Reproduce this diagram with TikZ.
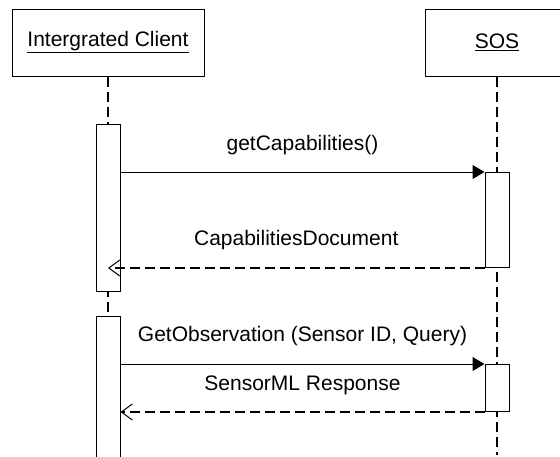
\documentclass[tikz,border=0pt]{standalone}
\usepackage{fontspec}
\setmainfont{Liberation Sans}
\usetikzlibrary{arrows.meta, backgrounds}

\tikzset{
  objbox/.style={draw, line width=1pt, minimum width=192pt, minimum height=67pt,
    inner sep=0pt, font=\fontsize{21}{25}\selectfont},
  actbox/.style={draw, fill=white, line width=1pt, minimum width=24pt, inner sep=0pt, anchor=north},
  lifeline/.style={line width=2pt, dash pattern=on 10pt off 5pt},
  call/.style={line width=1pt, -{Triangle[length=12pt, width=14pt]}},
  reply/.style={line width=1.6pt, dash pattern=on 10pt off 5pt,
    -{Straight Barb[length=11pt, width=16pt, line width=1pt]}},
  msg/.style={font=\fontsize{21}{25}\selectfont, inner sep=0pt, text height=15pt, text depth=4pt}
}

\begin{document}
\begin{tikzpicture}[x=1pt, y=-1pt]
  \useasboundingbox (0,0) rectangle (560,456);
  \clip (0,0) rectangle (560,456);

  % objects
  \node[objbox] (client) at (108,42.5) {\underline{Intergrated Client}};
  \node[objbox, minimum width=144pt] (sos) at (497,42.5) {\underline{SOS}};

  % activations
  \node[actbox, minimum height=167pt] (ca1) at (108,124) {};
  \node[actbox, minimum height=160pt] (ca2) at (108,316) {};
  \node[actbox, minimum height=95pt] (sa1) at (497,172) {};
  \node[actbox, minimum height=47pt] (sa2) at (497,364) {};

  % lifeline end
  \coordinate (sosend) at (497,455);

  % lifelines
  \begin{scope}[on background layer]
    \draw[lifeline] (client.south) -- (ca2.north);
    \draw[lifeline] (sos.south) -- (sosend);
  \end{scope}

  % messages
  \draw[call] (ca1.east |- sa1.north west) -- (sa1.north west)
    node[msg, midway, yshift=27pt] (m1) {getCapabilities()};
  \draw[reply] (sa1.south west) -- (ca1.center |- sa1.south west)
    node[msg, midway, yshift=28pt] (m2) {CapabilitiesDocument};
  \draw[call] (ca2.east |- sa2.north west) -- (sa2.north west)
    node[msg, midway, yshift=28pt] (m3) {GetObservation (Sensor ID, Query)};
  \draw[reply] (sa2.south west) -- (ca2.east |- sa2.south west)
    node[msg, midway, yshift=27pt] (m4) {SensorML Response};
\end{tikzpicture}
\end{document}
